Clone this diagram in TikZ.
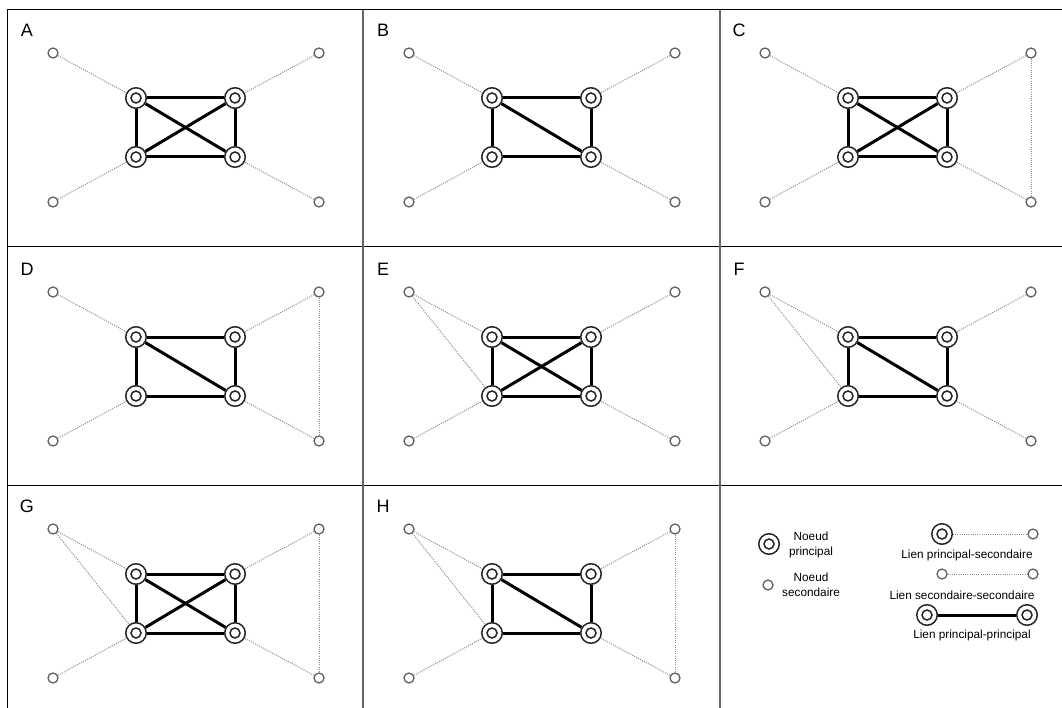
\documentclass[tikz,border=0pt]{standalone}
\usepackage{fontspec}
\setmainfont{Liberation Sans}
\begin{document}
\begin{tikzpicture}[x=1pt,y=-1pt,
  prin/.style={circle, draw=black!85, line width=1.5pt, minimum size=20.5pt, inner sep=0pt, fill=white,
    path picture={\draw[line width=1.5pt, black!85] (path picture bounding box.center) circle (5pt);}},
  sec/.style={circle, draw=black!62, line width=1.3pt, minimum size=10pt, inner sep=0pt, fill=white},
  plink/.style={line width=3pt, black},
  slink/.style={line width=1pt, black!45, dash pattern=on 1pt off 1.2pt},
  divv/.style={line width=1.4pt, black!60},
  divh/.style={line width=1pt, black},
  tag/.style={font=\fontsize{18}{21}\selectfont, anchor=center, inner sep=0pt},
  lgd/.style={font=\fontsize{11.8}{14.5}\selectfont, align=center, inner sep=0pt}]

\useasboundingbox (0,0) rectangle (1062,708);
\fill[white] (0,0) rectangle (1062,708);

% frame and grid
\draw[divh] (7,10) -- (1062,10);
\draw[divh] (7,10) -- (7,708);
\draw[divh] (7,247) -- (1062,247);
\draw[divh] (7,485) -- (1062,485);
\draw[divv] (363,10) -- (363,708);
\draw[divv] (720,10) -- (720,708);

% one panel: #1 name, #2 x offset, #3 y offset, #4 cross (1/0), #5 left link, #6 right link
\newcommand\drawpanel[6]{%
  \begin{scope}[xshift=#2pt, yshift=-#3pt]
    \node[tag] (#1-tag) at (27,30) {#1};
    \node[prin] (#1-p1) at (136,98) {};
    \node[prin] (#1-p2) at (235,98) {};
    \node[prin] (#1-p3) at (136,157) {};
    \node[prin] (#1-p4) at (235,157) {};
    \node[sec] (#1-s1) at (53,53) {};
    \node[sec] (#1-s2) at (319,53) {};
    \node[sec] (#1-s3) at (53,202) {};
    \node[sec] (#1-s4) at (319,202) {};
    \draw[slink] (#1-s1) -- (#1-p1);
    \draw[slink] (#1-s2) -- (#1-p2);
    \draw[slink] (#1-s3) -- (#1-p3);
    \draw[slink] (#1-s4) -- (#1-p4);
    \ifnum#5=1 \draw[slink] (#1-s1) -- (#1-p3);\fi
    \ifnum#6=1 \draw[slink] (#1-s2) -- (#1-s4);\fi
    \draw[plink] (#1-p1) -- (#1-p2);
    \draw[plink] (#1-p3) -- (#1-p4);
    \draw[plink] (#1-p1) -- (#1-p3);
    \draw[plink] (#1-p2) -- (#1-p4);
    \draw[plink] (#1-p1) -- (#1-p4);
    \ifnum#4=1 \draw[plink] (#1-p3) -- (#1-p2);\fi
  \end{scope}}

\drawpanel{A}{0}{0}{1}{0}{0}
\drawpanel{B}{356}{0}{0}{0}{0}
\drawpanel{C}{712}{0}{1}{0}{1}
\drawpanel{D}{0}{239}{0}{0}{1}
\drawpanel{E}{356}{239}{1}{1}{0}
\drawpanel{F}{712}{239}{0}{1}{0}
\drawpanel{G}{0}{476}{1}{1}{1}
\drawpanel{H}{356}{476}{0}{1}{1}

% legend
\node[prin] (Lp) at (769,544) {};
\node[lgd] (Lpt) at (811,545) {Noeud\\principal};
\node[sec] (Ls) at (768,585) {};
\node[lgd] (Lst) at (811,585) {Noeud\\secondaire};

\node[prin] (L1a) at (942,534) {};
\node[sec] (L1b) at (1033,534) {};
\draw[slink] (L1a) -- (L1b);
\node[lgd] (L1t) at (967,555) {Lien principal-secondaire};

\node[sec] (L2a) at (942,574) {};
\node[sec] (L2b) at (1033,574) {};
\draw[slink] (L2a) -- (L2b);
\node[lgd] (L2t) at (962,595) {Lien secondaire-secondaire};

\node[prin] (L3a) at (927,615) {};
\node[prin] (L3b) at (1027,615) {};
\draw[plink] (L3a) -- (L3b);
\node[lgd] (L3t) at (972,635) {Lien principal-principal};
\end{tikzpicture}
\end{document}
